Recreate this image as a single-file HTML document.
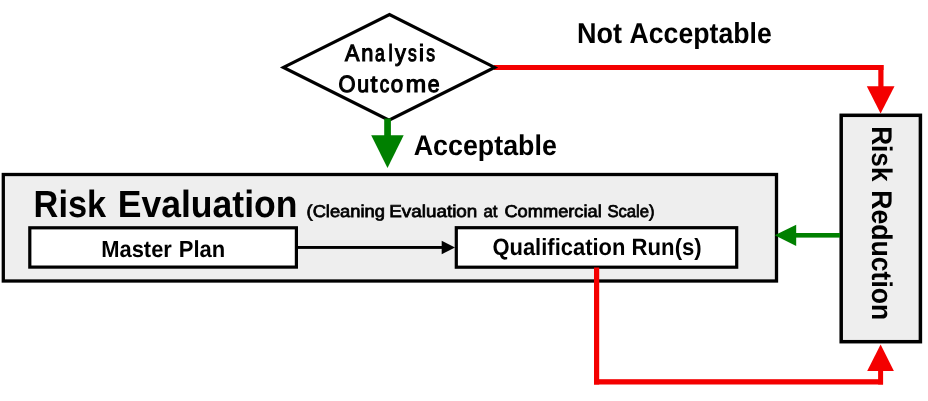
<!DOCTYPE html>
<html><head><meta charset="utf-8">
<style>
html,body{margin:0;padding:0;background:#fff;width:928px;height:401px;overflow:hidden;}
svg{display:block;will-change:transform;}
text{font-family:"Liberation Sans",sans-serif;fill:#000;text-rendering:geometricPrecision;}
.b{font-weight:bold;}
</style></head>
<body>
<svg width="928" height="401" viewBox="0 0 928 401">
<!-- outer risk evaluation box -->
<rect x="3.3" y="174.5" width="773.2" height="106.5" fill="#eeeeee" stroke="#000" stroke-width="3.3"/>
<!-- master plan -->
<rect x="29.8" y="227.8" width="266.6" height="39.3" fill="#fff" stroke="#000" stroke-width="3.2"/>
<!-- qualification -->
<rect x="456.3" y="227.7" width="280.4" height="39.5" fill="#fff" stroke="#000" stroke-width="3.2"/>
<!-- connector -->
<rect x="298" y="246" width="144" height="2.9" fill="#000"/>
<polygon points="441.7,240.7 455,247.5 441.7,254.2" fill="#000"/>
<!-- red line from diamond (under diamond) -->
<rect x="494" y="65" width="389.5" height="5" fill="#f40000"/>
<!-- diamond -->
<polygon points="283.5,67.4 389.5,14.5 494.6,67.4 389,120.3" fill="#fff" stroke="#000" stroke-width="3.2"/>
<!-- green down arrow -->
<rect x="384.2" y="118.5" width="6.7" height="17.5" fill="#008000"/>
<polygon points="371.2,135.2 403.7,135.2 387.5,168" fill="#008000"/>
<!-- red top -->
<rect x="878.3" y="65" width="5.2" height="22" fill="#f40000"/>
<polygon points="866.8,86.2 894.5,86.2 880.6,113.5" fill="#f40000"/>
<!-- risk reduction box -->
<rect x="841.2" y="115.3" width="79.2" height="226.4" fill="#eeeeee" stroke="#000" stroke-width="3.5"/>
<!-- green left arrow -->
<rect x="795" y="233" width="45" height="4.6" fill="#008000"/>
<polygon points="774.7,235.3 796.2,224.7 796.2,246.1" fill="#008000"/>
<!-- red bottom -->
<rect x="594" y="267.5" width="5.2" height="117" fill="#f40000"/>
<rect x="594" y="379.2" width="289" height="5.3" fill="#f40000"/>
<rect x="878.1" y="370" width="5" height="14.5" fill="#f40000"/>
<polygon points="867.2,370.9 893.9,370.9 880.6,344.4" fill="#f40000"/>

<!-- texts -->
<g>
<text transform="matrix(0.9248,0,0,1,345.03,60.7)" font-size="23.4" stroke="#000" stroke-width="1.15">A</text>
<text transform="matrix(0.9305,0,0,1,361.13,60.7)" font-size="23.4" stroke="#000" stroke-width="1.15">n</text>
<text transform="matrix(0.7500,0,0,1,375.10,60.7)" font-size="23.4" stroke="#000" stroke-width="1.15">a</text>
<text transform="matrix(0.8023,0,0,1,388.51,60.7)" font-size="23.4" stroke="#000" stroke-width="1.15">l</text>
<text transform="matrix(0.9270,0,0,1,394.92,60.7)" font-size="23.4" stroke="#000" stroke-width="1.15">y</text>
<text transform="matrix(0.7500,0,0,1,408.09,60.7)" font-size="23.4" stroke="#000" stroke-width="1.15">s</text>
<text transform="matrix(0.9481,0,0,1,418.99,60.7)" font-size="23.4" stroke="#000" stroke-width="1.15">i</text>
<text transform="matrix(0.7500,0,0,1,426.24,60.7)" font-size="23.4" stroke="#000" stroke-width="1.15">s</text>
</g>
<g>
<text transform="matrix(0.9359,0,0,1,338.54,92.2)" font-size="23.4" stroke="#000" stroke-width="1.15">O</text>
<text transform="matrix(0.9104,0,0,1,357.29,92.2)" font-size="23.4" stroke="#000" stroke-width="1.15">u</text>
<text transform="matrix(1.0626,0,0,1,370.60,92.2)" font-size="23.4" stroke="#000" stroke-width="1.15">t</text>
<text transform="matrix(0.8078,0,0,1,379.77,92.2)" font-size="23.4" stroke="#000" stroke-width="1.15">c</text>
<text transform="matrix(0.9549,0,0,1,390.74,92.2)" font-size="23.4" stroke="#000" stroke-width="1.15">o</text>
<text transform="matrix(1.0460,0,0,1,405.85,92.2)" font-size="23.4" stroke="#000" stroke-width="1.15">m</text>
<text transform="matrix(0.9062,0,0,1,427.87,92.2)" font-size="23.4" stroke="#000" stroke-width="1.15">e</text>
</g>
<text class="b" x="413.73" y="154.7" font-size="28.5" textLength="143.08" lengthAdjust="spacingAndGlyphs">Acceptable</text>
<text class="b" x="576.89" y="42.9" font-size="28.9" textLength="45.04" lengthAdjust="spacingAndGlyphs">Not</text>
<text class="b" x="629.54" y="42.9" font-size="28.9" textLength="142.28" lengthAdjust="spacingAndGlyphs">Acceptable</text>
<text class="b" x="33.6" y="217" font-size="37.9" textLength="72.56" lengthAdjust="spacingAndGlyphs">Risk</text>
<text class="b" x="117.72" y="217" font-size="37.9" textLength="179.78" lengthAdjust="spacingAndGlyphs">Evaluation</text>
<text x="306.54" y="216.5" font-size="17.2" stroke="#000" stroke-width="0.75" textLength="78.37" lengthAdjust="spacingAndGlyphs">(Cleaning</text>
<text x="389.23" y="216.5" font-size="17.2" stroke="#000" stroke-width="0.75" textLength="88.12" lengthAdjust="spacingAndGlyphs">Evaluation</text>
<text x="483.46" y="216.5" font-size="17.2" stroke="#000" stroke-width="0.75" textLength="13.99" lengthAdjust="spacingAndGlyphs">at</text>
<text x="504.45" y="216.5" font-size="17.2" stroke="#000" stroke-width="0.75" textLength="97.30" lengthAdjust="spacingAndGlyphs">Commercial</text>
<text x="607.42" y="216.5" font-size="17.2" stroke="#000" stroke-width="0.75" textLength="47.24" lengthAdjust="spacingAndGlyphs">Scale)</text>
<text class="b" x="101.24" y="256.9" font-size="23.26" textLength="70.60" lengthAdjust="spacingAndGlyphs">Master</text>
<text class="b" x="178.73" y="256.9" font-size="23.26" textLength="46.43" lengthAdjust="spacingAndGlyphs">Plan</text>
<text class="b" x="492.40" y="254.9" font-size="23.5" textLength="133.06" lengthAdjust="spacingAndGlyphs">Qualification</text>
<text class="b" x="631.62" y="254.9" font-size="23.5" textLength="70.08" lengthAdjust="spacingAndGlyphs">Run(s)</text>
<g transform="translate(871.8,0) rotate(90)">
<text class="b" x="126.15" y="0" font-size="28.5" textLength="55.33" lengthAdjust="spacingAndGlyphs">Risk</text>
<text class="b" x="190.22" y="0" font-size="28.5" textLength="130.13" lengthAdjust="spacingAndGlyphs">Reduction</text>
</g>
</svg>
</body></html>
